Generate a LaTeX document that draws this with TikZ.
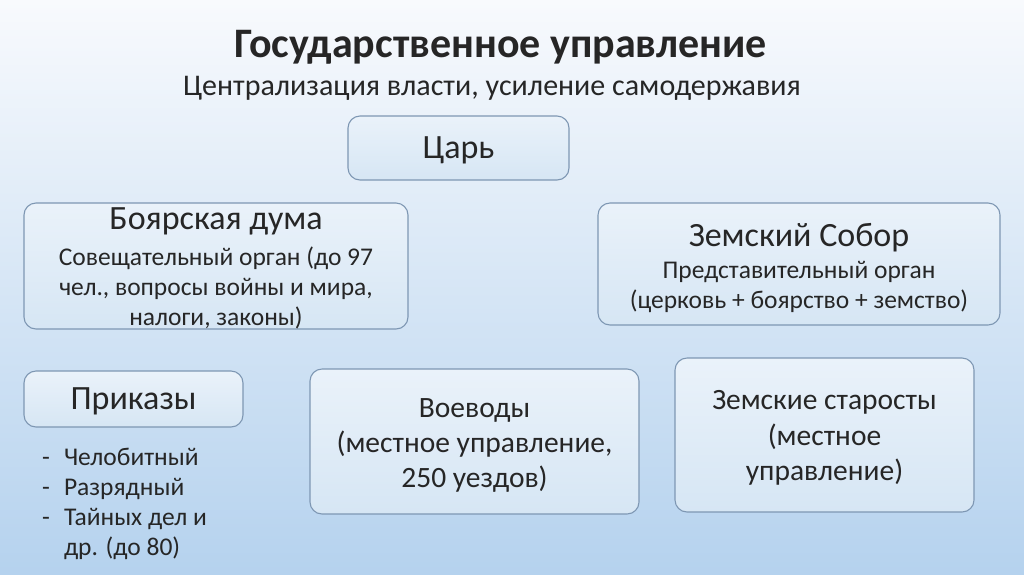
\documentclass[tikz,border=0pt]{standalone}
\usepackage{fontspec}
\setmainfont{Carlito}
\begin{document}
\begin{tikzpicture}[x=1pt,y=-1pt,
  box/.style={draw=bordc,line width=1.1pt,rounded corners=12pt,top color=boxtop,bottom color=boxbot,align=center,inner sep=0pt},
  big/.style={font=\fontsize{34}{40}\selectfont},
  sm/.style={font=\fontsize{25.5}{30}\selectfont},
  txt/.style={text=black!85,align=center,inner sep=0pt}]
\definecolor{bordc}{HTML}{7E97B3}
\definecolor{boxtop}{HTML}{EAF2FA}
\definecolor{boxbot}{HTML}{D6E6F4}
\definecolor{bgtop}{HTML}{F8FAFD}
\definecolor{bgbot}{HTML}{B5D2EE}
\shade[top color=bgtop,bottom color=bgbot] (0,0) rectangle (1024,574);
\useasboundingbox (0,0) rectangle (1024,574);
\node[txt,font=\fontsize{42}{48}\selectfont\bfseries] (title) at (501,47) {Государственное управление};
\node[txt,font=\fontsize{30}{36}\selectfont] (sub) at (492,88) {Централизация власти, усиление самодержавия};
\path[box] (348,116) rectangle (569,180);
\node[txt,big] (tsar) at (458.5,150) {Царь};
\path[box] (24,203) rectangle (408,329);
\node[txt,big] (bd) at (216,221) {Боярская дума};
\node[txt,sm] (bdt) at (216,288) {Совещательный орган (до 97\\чел., вопросы войны и мира,\\налоги, законы)};
\path[box] (598,203) rectangle (1000,325);
\node[txt,big] (zs) at (799,238) {Земский Собор};
\node[txt,sm] (zst) at (799,287) {Представительный орган\\(церковь + боярство + земство)};
\path[box] (24,371) rectangle (243,427);
\node[txt,big] (pr) at (133.5,401) {Приказы};
\node[txt,sm,align=left,anchor=west] (list) at (42,504) {-\hspace{14pt}Челобитный\\-\hspace{14pt}Разрядный\\-\hspace{14pt}Тайных дел и\\\phantom{-}\hspace{14pt}др. (до 80)};
\path[box] (310,369) rectangle (639,514);
\node[txt,font=\fontsize{29.5}{35}\selectfont] (vv) at (474.5,445) {Воеводы\\(местное управление,\\250 уездов)};
\path[box] (675,358) rectangle (974,512);
\node[txt,font=\fontsize{29.5}{35.5}\selectfont] (st) at (824.5,438) {Земские старосты\\(местное\\управление)};
\end{tikzpicture}
\end{document}
